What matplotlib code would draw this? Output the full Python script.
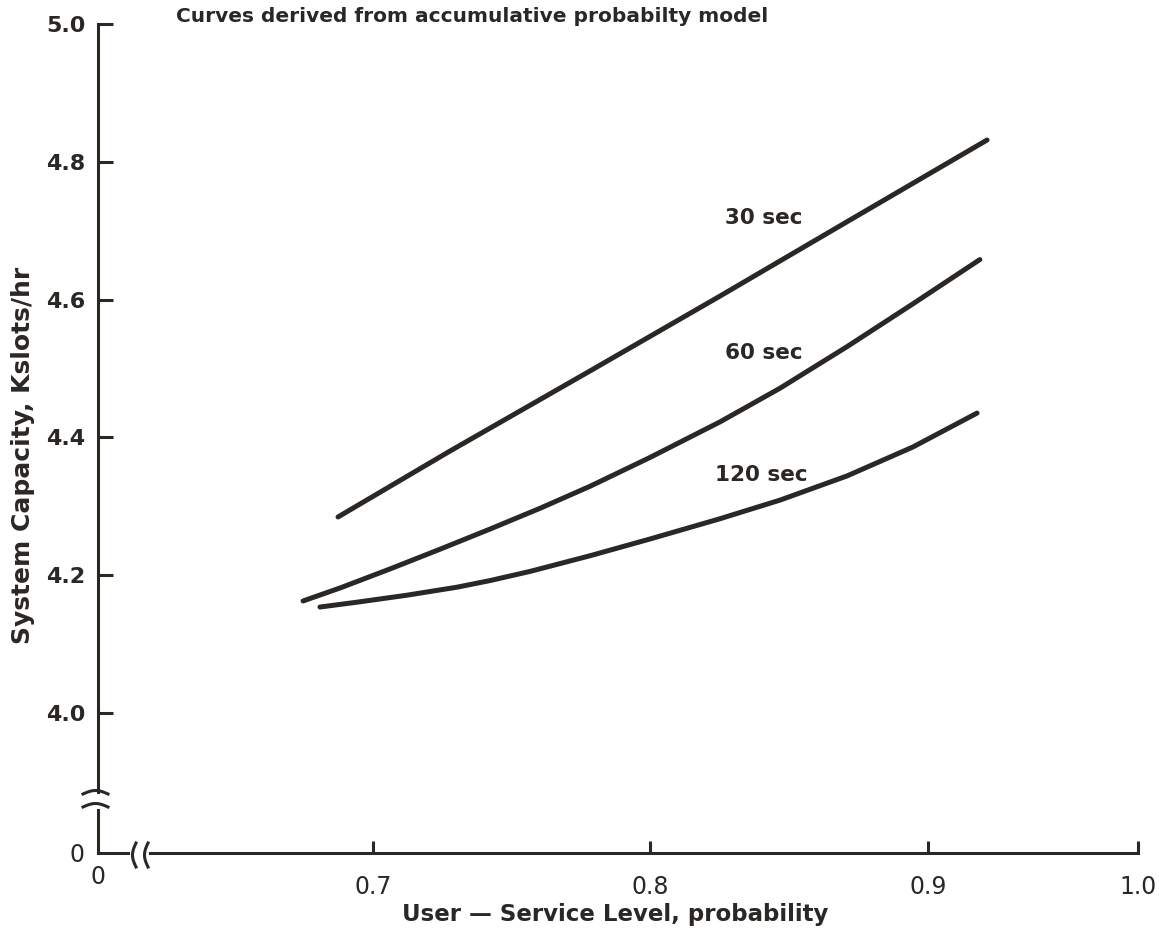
import numpy as np
import matplotlib
matplotlib.use("Agg")
import matplotlib.pyplot as plt
from matplotlib.lines import Line2D

# values (user-service level, capacity in Kslots/hr)
x_30 = [0.6874, 0.7278, 0.7782, 0.8251, 0.8719, 0.9213]
y_30 = [4.2845, 4.3803, 4.4964, 4.6052, 4.7155, 4.8316]

x_60 = [0.6748, 0.6881, 0.7061, 0.7241, 0.7422, 0.7602, 0.7782, 0.7998,
        0.8251, 0.8467, 0.8708, 0.8946, 0.9187]
y_60 = [4.1626, 4.1814, 4.2090, 4.2376, 4.2670, 4.2971, 4.3290, 4.3708,
        4.4226, 4.4714, 4.5316, 4.5939, 4.6581]

x_120 = [0.6809, 0.6942, 0.7123, 0.7303, 0.7422, 0.7566, 0.7782, 0.7998,
         0.8251, 0.8467, 0.8708, 0.8946, 0.9177]
y_120 = [4.1538, 4.1608, 4.1710, 4.1826, 4.1922, 4.2055, 4.2282, 4.2525,
         4.2820, 4.3090, 4.3440, 4.3861, 4.4353]

curve_labels = ["30 sec", "60 sec", "120 sec"]
label_x = [0.841, 0.841, 0.840]
label_y = [4.718, 4.522, 4.345]

y_ticks = [4.0, 4.2, 4.4, 4.6, 4.8, 5.0]
y_ticklabels = ["4.0", "4.2", "4.4", "4.6", "4.8", "5.0"]
x_ticks = [0.7, 0.8, 0.9, 0.9757]          # the drawn 1.0 tick sits short of 1.0
x_ticklabels = ["0.7", "0.8", "0.9", "1.0"]

# where the broken axes put their "0"
X_ZERO = 0.6009
Y_ZERO = 3.7968

INK = "#2b2724"
W, H = 1159, 934

fig = plt.figure(figsize=(W / 100, H / 100), dpi=100)
fig.patch.set_facecolor("white")
ax = fig.add_axes([98 / W, 1 - 853 / H, 1040 / W, 829 / H])
ax.set_xlim(X_ZERO, 0.9757)
ax.set_ylim(Y_ZERO, 5.0)
for s in ax.spines.values():
    s.set_visible(False)

for xs, ys in [(x_30, y_30), (x_60, y_60), (x_120, y_120)]:
    ax.plot(xs, ys, color=INK, lw=3.6, solid_capstyle="round", solid_joinstyle="round")

for t, xx, yy in zip(curve_labels, label_x, label_y):
    ax.text(xx, yy, t, ha="center", va="center", fontsize=15.5, fontweight="bold", color=INK)

# ticks
ax.set_yticks(y_ticks)
ax.set_yticklabels(y_ticklabels, fontweight="bold")
ax.set_xticks(x_ticks)
ax.set_xticklabels(x_ticklabels)
ax.tick_params(axis="y", direction="in", length=10.8, width=2.2, color=INK,
               labelsize=16, labelcolor=INK, pad=9)
ax.tick_params(axis="x", direction="in", length=8.6, width=2.2, color=INK,
               labelsize=17, labelcolor=INK, pad=16)

# axis lines with breaks
ax.plot([X_ZERO, X_ZERO], [5.0, 3.8853], color=INK, lw=2.2, clip_on=False)
ax.plot([X_ZERO, X_ZERO], [3.8592, Y_ZERO], color=INK, lw=2.2, clip_on=False)
ax.plot([X_ZERO, 0.6117], [Y_ZERO, Y_ZERO], color=INK, lw=2.2, clip_on=False)
ax.plot([0.6196, 0.9757], [Y_ZERO, Y_ZERO], color=INK, lw=2.2, clip_on=False)


def pix(px, py):
    return np.asarray(px) / W, 1 - np.asarray(py) / H


t = np.linspace(0, 1, 30)
# break marks on y axis (arcs)
for py in (794, 807):
    bx, by = pix(83 + 25 * t, py - 3.5 * np.sin(np.pi * t))
    fig.add_artist(Line2D(bx, by, color=INK, lw=2.2))
# break marks on x axis
for px in (136, 148):
    bx, by = pix(px - 3.5 * np.sin(np.pi * t), 843 + 24 * t)
    fig.add_artist(Line2D(bx, by, color=INK, lw=2.2))

# the zeros at the origin
fig.text(77 / W, 1 - 855 / H, "0", ha="center", va="center", fontsize=17, color=INK)
fig.text(98 / W, 1 - 877 / H, "0", ha="center", va="center", fontsize=17, color=INK)

fig.text(615 / W, 1 - 914 / H, "User \u2014 Service Level, probability", ha="center",
         va="center", fontsize=16.5, fontweight="bold", color=INK)
fig.text(23 / W, 1 - 455 / H, "System Capacity, Kslots/hr", ha="center", va="center",
         rotation=90, fontsize=18, fontweight="bold", color=INK)
fig.text(472 / W, 1 - 16 / H, "Curves derived from accumulative probabilty model",
         ha="center", va="center", fontsize=14.5, fontweight="bold", color=INK)

fig.savefig("out.png", dpi=100, facecolor="white")
